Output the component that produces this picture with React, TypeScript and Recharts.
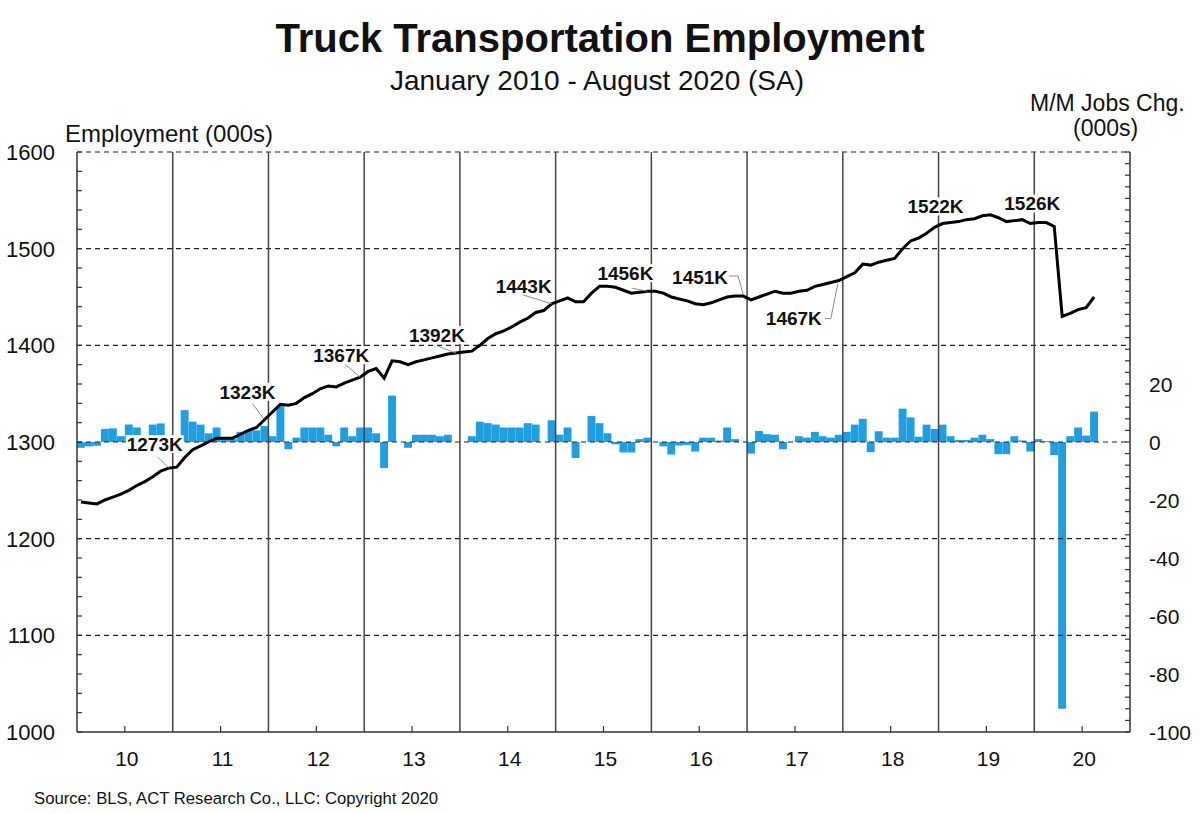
import React from 'react';
import { ComposedChart, Bar, Line, XAxis, YAxis, ReferenceLine } from 'recharts';

// Jan 2010 .. Aug 2020, seasonally adjusted, thousands
const employment = [
  1238, 1237, 1236, 1240, 1243, 1246, 1250, 1255, 1259, 1264, 1270, 1273,
  1274, 1284, 1292, 1296, 1300, 1304, 1304, 1304, 1308, 1312, 1315, 1323,
  1331, 1339, 1338, 1340, 1346, 1350, 1355, 1358, 1357, 1361, 1364, 1367,
  1373, 1376, 1366, 1384, 1383, 1380, 1383, 1385, 1387, 1389, 1391, 1392,
  1393, 1394, 1400, 1407, 1412, 1415, 1419, 1424, 1428, 1434, 1436, 1443,
  1446, 1449, 1445, 1445, 1454, 1461, 1461, 1460, 1457, 1454, 1455, 1456,
  1456, 1454, 1450, 1448, 1446, 1443, 1442, 1444, 1447, 1450, 1451, 1451,
  1447, 1450, 1453, 1456, 1454, 1454, 1456, 1457, 1461, 1463, 1465, 1467,
  1471, 1475, 1484, 1483, 1486, 1488, 1490, 1500, 1508, 1511, 1516, 1522,
  1526, 1527, 1528, 1530, 1531, 1534, 1535, 1532, 1528, 1529, 1530, 1526,
  1527, 1527, 1523, 1430, 1433, 1437, 1439, 1450,
];

// month-over-month change, thousands
const jobsChange = [
  -2, -1.5, -1.3, 4.5, 4.7, 2, 6, 5, 2, 6, 6.4, 0,
  0, 11, 7, 6, 3, 5, 1, 1, 3.5, 4, 4, 5.5,
  2, 12.5, -2.5, 1.5, 5, 5, 5, 2.5, -1.5, 5, 2, 5,
  5, 3, -9, 16, 0, -2, 2.5, 2.5, 2.5, 2, 2.5, 0,
  0, 2, 7, 6.5, 6, 5, 5, 5, 6.5, 6, 0, 7.5,
  2.5, 5, -5.5, 0, 9, 6.5, 3, -0.8, -3.6, -3.6, 1, 1.5,
  0, -1.5, -4.3, -1.2, -1, -3.3, 1.5, 1.5, 0.5, 5, 1, 0,
  -4, 3.8, 2.7, 2.5, -2.5, 0, 2, 1.5, 3.5, 2, 1.5, 2.5,
  3.5, 6, 8, -3.5, 3.7, 1.5, 1.5, 11.5, 8.5, 1.8, 6, 4.5,
  6, 2, 0.7, 0.7, 1.5, 2.5, 1, -4.2, -4.2, 2, 0.5, -3.3,
  1, 0.3, -4.5, -92, 2, 5, 2.2, 10.5,
];

const yearLabels = ['10', '11', '12', '13', '14', '15', '16', '17', '18', '19', '20'];
const leftMajor = [1000, 1100, 1200, 1300, 1400, 1500, 1600];
const rightMajor = [-100, -80, -60, -40, -20, 0, 20];

const leftTicks = Array.from({ length: 31 }, (_, i) => 1000 + i * 20);
const rightTicks = Array.from({ length: 51 }, (_, i) => -100 + i * 4);
const yearCenters = yearLabels.map((_, i) => i * 12 + 6);
const yearBounds = yearLabels.slice(1).map((_, i) => (i + 1) * 12);

const data = employment.map((v, i) => ({ t: i + 0.5, emp: v, chg: jobsChange[i] }));

// callouts on the employment line
const callouts = [
  { index: 11, text: '1273K', dx: -14, dy: -24, leader: [[-11, -11], [0, 0]] },
  { index: 23, text: '1323K', dx: -17, dy: -28, leader: [[-12, -16], [0, 0]] },
  { index: 35, text: '1367K', dx: -19, dy: -22, leader: [[-15, -13], [0, 0]] },
  { index: 47, text: '1392K', dx: -19, dy: -18, leader: [[-18, -7], [0, 0]] },
  { index: 59, text: '1443K', dx: -28, dy: -18, leader: [[-29, -9], [0, 0]] },
  { index: 71, text: '1456K', dx: -22, dy: -18, leader: [[-15, -3], [0, 0]] },
  { index: 83, text: '1451K', dx: -43, dy: -19, leader: [[-14, -20], [-5, -20], [0, -2]] },
  { index: 95, text: '1467K', dx: -45, dy: 38, leader: [[-14, 38], [-8, 38], [-1, 3]] },
  { index: 107, text: '1522K', dx: 1, dy: -21, leader: [] },
  { index: 119, text: '1526K', dx: 2, dy: -20, leader: [] },
];

const FONT = '"Liberation Sans", Arial, sans-serif';

const LeftTick = ({ x, y, payload }: any) => {
  const ax = x + 22;
  const major = payload.value % 100 === 0;
  return (
    <g>
      <line x1={ax} x2={ax + 5} y1={y} y2={y} stroke="#333" strokeWidth={1.2} />
      {major && (
        <text x={x} y={y} dy="0.36em" textAnchor="end" fontSize={22} fontFamily={FONT} fill="#111">
          {payload.value}
        </text>
      )}
    </g>
  );
};

const RightTick = ({ x, y, payload }: any) => {
  const ax = x - 19;
  const show = rightMajor.includes(payload.value);
  return (
    <g>
      <line x1={ax - 5} x2={ax} y1={y} y2={y} stroke="#333" strokeWidth={1.2} />
      {show && (
        <text x={x} y={y} dy="0.36em" textAnchor="start" fontSize={21} fontFamily={FONT} fill="#111">
          {payload.value}
        </text>
      )}
    </g>
  );
};

const BottomTick = ({ x, y, payload }: any) => {
  const ay = y - 26;
  const label = yearLabels[Math.floor(payload.value / 12)];
  return (
    <g>
      <line x1={x} x2={x} y1={ay - 6} y2={ay} stroke="#333" strokeWidth={1.2} />
      <text x={x + 2} y={y} dy="0.36em" textAnchor="middle" fontSize={21} fontFamily={FONT} fill="#111">
        {label}
      </text>
    </g>
  );
};

const CalloutLabel = (props: any) => {
  const { x, y, index } = props;
  const c = callouts.find((d) => d.index === index);
  if (!c || x == null || y == null) return null;
  const w = 58;
  const h = 18;
  const cx = x + c.dx;
  const cy = y + c.dy;
  const pts = c.leader.map((p: number[]) => `${x + p[0]},${y + p[1]}`).join(' ');
  return (
    <g>
      {c.leader.length > 0 && <polyline points={pts} fill="none" stroke="#8a8a8a" strokeWidth={1} />}
      <rect x={cx - w / 2} y={cy - h / 2} width={w} height={h} fill="#fff" />
      <text x={cx} y={cy} dy="0.36em" textAnchor="middle" fontSize={19} fontWeight="bold" fontFamily={FONT} fill="#111">
        {c.text}
      </text>
    </g>
  );
};

const txt: React.CSSProperties = {
  position: 'absolute',
  fontFamily: FONT,
  color: '#111',
  whiteSpace: 'nowrap',
  lineHeight: 1,
};

export default function App() {
  return (
    <div style={{ position: 'relative', width: 1200, height: 813, background: '#fff', overflow: 'hidden' }}>
      <style>{'body{margin:0}'}</style>
      <ComposedChart width={1200} height={813} data={data} margin={{ top: 152, right: 10, bottom: 41, left: 17 }}>
        <XAxis
          type="number"
          dataKey="t"
          domain={[0, 132]}
          ticks={yearCenters}
          interval={0}
          height={40}
          tickSize={0}
          tickMargin={26}
          tick={<BottomTick />}
          axisLine={{ stroke: '#333', strokeWidth: 1.5 }}
          tickLine={false}
        />
        <YAxis
          yAxisId="left"
          domain={[1000, 1600]}
          ticks={leftTicks}
          interval={0}
          width={60}
          tickSize={0}
          tickMargin={22}
          tick={<LeftTick />}
          axisLine={{ stroke: '#333', strokeWidth: 1.5 }}
          tickLine={false}
        />
        <YAxis
          yAxisId="right"
          orientation="right"
          domain={[-100, 100]}
          ticks={rightTicks}
          interval={0}
          width={60}
          tickSize={0}
          tickMargin={19}
          tick={<RightTick />}
          axisLine={{ stroke: '#333', strokeWidth: 1.5 }}
          tickLine={false}
        />
        {leftMajor.slice(1).map((v) => (
          <ReferenceLine key={`h${v}`} yAxisId="left" y={v} stroke="#222" strokeWidth={1.2} strokeDasharray="5 4" />
        ))}
        {yearBounds.map((v) => (
          <ReferenceLine key={`v${v}`} yAxisId="left" x={v} stroke="#444" strokeWidth={1.5} />
        ))}
        <Bar yAxisId="right" dataKey="chg" fill="#1F9EE2" barSize={7.9} isAnimationActive={false} />
        <Line
          yAxisId="left"
          dataKey="emp"
          type="linear"
          stroke="#000"
          strokeWidth={3}
          dot={false}
          isAnimationActive={false}
          label={<CalloutLabel />}
        />
      </ComposedChart>

      <div style={{ ...txt, left: 0, width: 1200, top: 18, textAlign: 'center', fontSize: 40, fontWeight: 'bold' }}>
        Truck Transportation Employment
      </div>
      <div style={{ ...txt, left: 0, width: 1194, top: 67, textAlign: 'center', fontSize: 28 }}>
        January 2010 - August 2020 (SA)
      </div>
      <div style={{ ...txt, left: 65, top: 122, fontSize: 24 }}>Employment (000s)</div>
      <div style={{ ...txt, left: 1030, top: 92, fontSize: 23 }}>M/M Jobs Chg.</div>
      <div style={{ ...txt, left: 1073, top: 117, fontSize: 23 }}>(000s)</div>
      <div style={{ ...txt, left: 34, top: 791, fontSize: 16.7 }}>Source: BLS, ACT Research Co., LLC: Copyright 2020</div>
    </div>
  );
}
